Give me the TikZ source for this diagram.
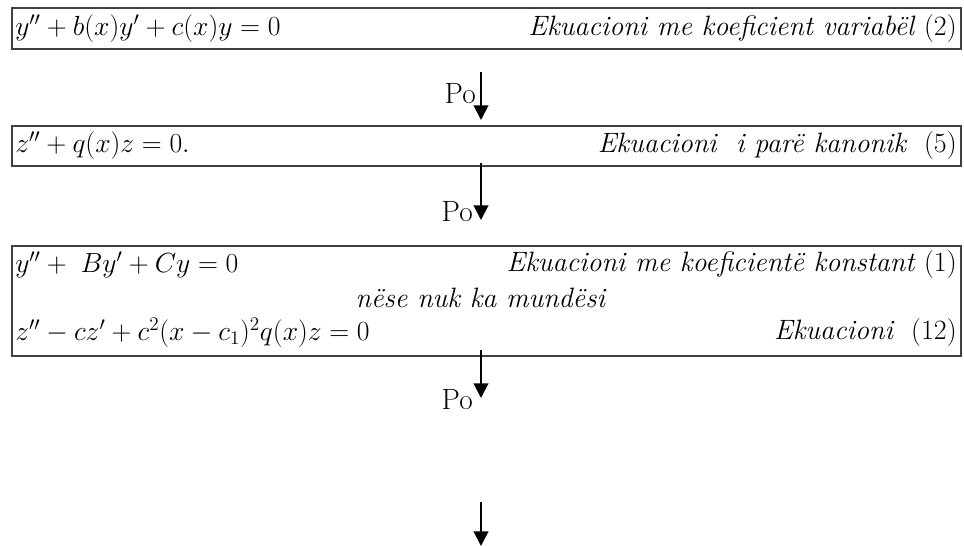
\documentclass[tikz,border=0pt]{standalone}
\usepackage{amsmath}
\usepackage{fontspec}
\newfontfamily\lmfont{Latin Modern Roman}
\usetikzlibrary{arrows.meta}

\tikzset{
  eqbox/.style={draw=black!75, line width=1.4pt, minimum width=711.75pt, inner sep=0pt},
  eqtext/.style={inner sep=0pt, font=\lmfont\fontsize{21}{25}\selectfont},
  flowarrow/.style={line width=1.5pt, -{Triangle[width=11pt,length=11pt]}},
  potext/.style={inner sep=0pt, font=\lmfont\fontsize{22}{25}\selectfont}
}

\begin{document}
\begin{tikzpicture}[x=0.75pt,y=-0.75pt]
  \useasboundingbox (0,0) rectangle (964,546);
  % boxes
  \node[eqbox, minimum height=30.75pt] (b1) at (486.5,28.5) {};
  \node[eqbox, minimum height=30pt]    (b2) at (486.5,146) {};
  \node[eqbox, minimum height=82.5pt]  (b3) at (486.5,301) {};
  % box 1
  \node[eqtext, anchor=west] (b1l) at (15,29) {$y''+b(x)y'+c(x)y=0$};
  \node[eqtext, anchor=east] (b1r) at (957,29) {\textit{Ekuacioni me koeficient variabël} (2)};
  % box 2
  \node[eqtext, anchor=west] (b2l) at (15,146) {$z''+q(x)z=0.$};
  \node[eqtext, anchor=east] (b2r) at (957,146) {\textit{Ekuacioni\ \ i parë kanonik}\ \ (5)};
  % box 3
  \node[eqtext, anchor=west] (b3l) at (15,265) {$y''+\;By'+Cy=0$};
  \node[eqtext, anchor=east] (b3r) at (957,265) {\textit{Ekuacioni me koeficientë konstant} (1)};
  \node[eqtext] (b3m) at (481,298) {\textit{nëse nuk ka mundësi}};
  \node[eqtext, anchor=west] (b3s) at (15,333) {$z''-cz'+c^2(x-c_1)^2q(x)z=0$};
  \node[eqtext, anchor=east] (b3t) at (957,333) {\textit{Ekuacioni}\ \ (12)};
  % arrows
  \coordinate (a1s) at (481,72);  \coordinate (a1e) at (481,120);
  \coordinate (a2s) at (481,163); \coordinate (a2e) at (481,220);
  \coordinate (a3s) at (481,350); \coordinate (a3e) at (481,398);
  \coordinate (a4s) at (481,502); \coordinate (a4e) at (481,546);
  \draw[flowarrow] (a1s) -- (a1e);
  \draw[flowarrow] (a2s) -- (a2e);
  \draw[flowarrow] (a3s) -- (a3e);
  \draw[flowarrow] (a4s) -- (a4e);
  \node[potext, anchor=base east] (p1) at (476,103) {Po};
  \node[potext, anchor=base east] (p2) at (473,221) {Po};
  \node[potext, anchor=base east] (p3) at (473,409) {Po};
\end{tikzpicture}
\end{document}
